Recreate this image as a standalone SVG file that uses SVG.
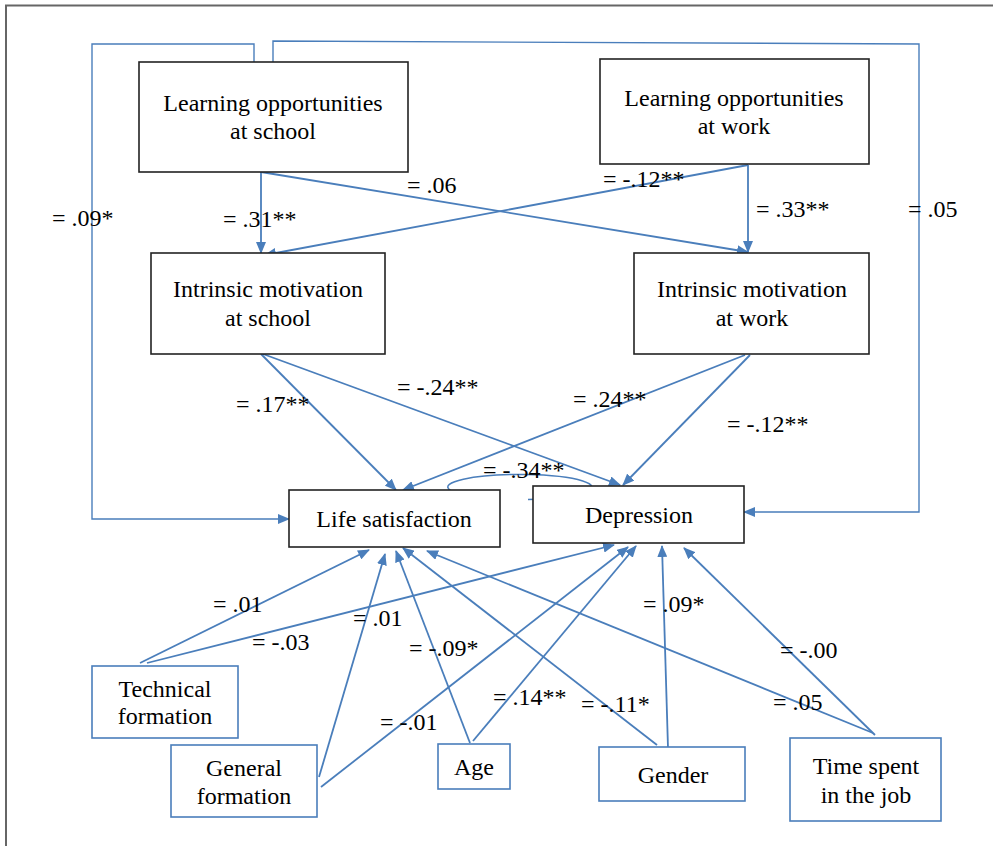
<svg xmlns="http://www.w3.org/2000/svg" width="993" height="846" viewBox="0 0 993 846">
<style>
  .t { font-family: 'Liberation Serif', 'DejaVu Serif', serif; font-size: 24px; fill: #000; }
  .c { text-anchor: middle; }
  .nb { fill: #fff; stroke: #222; stroke-width: 1.6; }
  .nbb { fill: #fff; stroke: #4a7ebb; stroke-width: 1.6; }
  .ln { fill: none; stroke: #4a7ebb; stroke-width: 1.8; marker-end: url(#ah); }
  .fb { fill: none; stroke: #4a7ebb; stroke-width: 1.4; }
</style>
<defs>
  <marker id="ah" viewBox="0 0 12 10" refX="11" refY="5" markerWidth="12" markerHeight="10" markerUnits="userSpaceOnUse" orient="auto">
    <path d="M0,0 L12,5 L0,10 z" fill="#4a7ebb"/>
  </marker>
</defs>
<rect x="0" y="0" width="993" height="846" fill="#fff"/>
<path d="M6 846 V5.5 H993" fill="none" stroke="#666" stroke-width="2"/>

<g id="connectors">
  <path class="fb" d="M254 62 V44 H92 V519 H289" marker-end="url(#ah)"/>
  <path class="fb" d="M273 62 V41 L919 44 V512 H744" marker-end="url(#ah)"/>
  <path class="ln" d="M261 172 V253"/>
  <path class="ln" d="M261 172 L748 252"/>
  <path class="ln" d="M748 165 L265 255"/>
  <path class="ln" d="M748 165 V252"/>
  <path class="ln" d="M261 354 L396 490"/>
  <path class="ln" d="M263 354 L620 485"/>
  <path class="ln" d="M745 355 L403 490"/>
  <path class="ln" d="M750 355 L623 485"/>
  <path d="M500 499 A72 12.5 0 1 1 528 499.4" fill="none" stroke="#4a7ebb" stroke-width="1.5"/>
  <path class="ln" d="M140 663 L369 550"/>
  <path class="ln" d="M147 663 L614 545"/>
  <path class="ln" d="M319 777 L385 554"/>
  <path class="ln" d="M321 787 L628 547"/>
  <path class="ln" d="M470 743 L396 551"/>
  <path class="ln" d="M473 741 L636 546"/>
  <path class="ln" d="M657 745 L403 548"/>
  <path class="ln" d="M668 748 L662 546"/>
  <path class="ln" d="M873 733 L427 551"/>
  <path class="ln" d="M875 735 L684 548"/>
</g>

<g id="labels">
  <text class="t" x="52" y="226">= .09*</text>
  <text class="t" x="407" y="193">= .06</text>
  <text class="t" x="223" y="227">= .31**</text>
  <text class="t" x="603" y="187">= -.12**</text>
  <text class="t" x="756" y="217">= .33**</text>
  <text class="t" x="908" y="217">= .05</text>
  <text class="t" x="236" y="412">= .17**</text>
  <text class="t" x="397" y="395">= -.24**</text>
  <text class="t" x="573" y="407">= .24**</text>
  <text class="t" x="727" y="432">= -.12**</text>
  <text class="t" x="483" y="478">= -.34**</text>
  <text class="t" x="213" y="612">= .01</text>
  <text class="t" x="252" y="650">= -.03</text>
  <text class="t" x="353" y="626">= .01</text>
  <text class="t" x="409" y="656">= -.09*</text>
  <text class="t" x="380" y="730">= -.01</text>
  <text class="t" x="493" y="705">= .14**</text>
  <text class="t" x="581" y="712">= -.11*</text>
  <text class="t" x="643" y="612">= .09*</text>
  <text class="t" x="780" y="658">= -.00</text>
  <text class="t" x="773" y="710">= .05</text>
</g>

<g id="learning-school">
  <rect class="nb" x="139" y="62" width="269" height="110"/>
  <text class="t c" x="273" y="111">Learning opportunities</text>
  <text class="t c" x="273" y="139">at school</text>
</g>
<g id="learning-work">
  <rect class="nb" x="600" y="59" width="269" height="105"/>
  <text class="t c" x="734" y="106">Learning opportunities</text>
  <text class="t c" x="734" y="134">at work</text>
</g>
<g id="intrinsic-school">
  <rect class="nb" x="151" y="253" width="234" height="101"/>
  <text class="t c" x="268" y="297">Intrinsic motivation</text>
  <text class="t c" x="268" y="326">at school</text>
</g>
<g id="intrinsic-work">
  <rect class="nb" x="634" y="253" width="235" height="101"/>
  <text class="t c" x="752" y="297">Intrinsic motivation</text>
  <text class="t c" x="752" y="326">at work</text>
</g>
<g id="life-satisfaction">
  <rect class="nb" x="289" y="490" width="211" height="57"/>
  <text class="t c" x="394" y="527">Life satisfaction</text>
</g>
<g id="depression">
  <rect class="nb" x="533" y="486" width="211" height="57"/>
  <text class="t c" x="639" y="523">Depression</text>
</g>
<g id="technical-formation">
  <rect class="nbb" x="92" y="666" width="146" height="72"/>
  <text class="t c" x="165" y="697">Technical</text>
  <text class="t c" x="165" y="724">formation</text>
</g>
<g id="general-formation">
  <rect class="nbb" x="171" y="745" width="146" height="72"/>
  <text class="t c" x="244" y="776">General</text>
  <text class="t c" x="244" y="804">formation</text>
</g>
<g id="age">
  <rect class="nbb" x="438" y="744" width="72" height="45"/>
  <text class="t c" x="474" y="775">Age</text>
</g>
<g id="gender">
  <rect class="nbb" x="599" y="747" width="146" height="54"/>
  <text class="t c" x="673" y="783">Gender</text>
</g>
<g id="time-spent">
  <rect class="nbb" x="790" y="738" width="151" height="83"/>
  <text class="t c" x="866" y="774">Time spent</text>
  <text class="t c" x="866" y="803">in the job</text>
</g>
</svg>
